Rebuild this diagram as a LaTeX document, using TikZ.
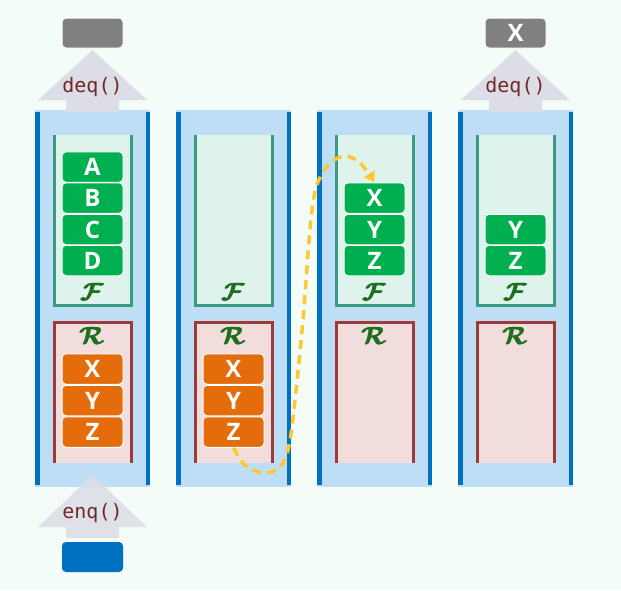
\documentclass[tikz,border=0pt]{standalone}
\usepackage{amsmath, amssymb}
\usepackage{fontspec}
\setsansfont{Open Sans}
\setmonofont{DejaVu Sans Mono}
\usepackage{tikz}
\usetikzlibrary{arrows.meta, positioning, calc}
\definecolor{fond}{RGB}{243,252,246}
\definecolor{colonne}{RGB}{190,222,246}
\definecolor{barre}{RGB}{0,112,192}
\definecolor{vertfond}{RGB}{221,243,236}
\definecolor{vertbord}{RGB}{58,154,130}
\definecolor{rosefond}{RGB}{242,221,221}
\definecolor{rougebord}{RGB}{158,58,58}
\definecolor{vert}{RGB}{0,176,80}
\definecolor{orange}{RGB}{228,108,10}
\definecolor{gris}{RGB}{128,128,128}
\definecolor{fleche}{RGB}{220,221,230}
\definecolor{brun}{RGB}{112,40,40}
\definecolor{jaune}{RGB}{255,200,48}
\definecolor{script}{RGB}{30,110,30}

\begin{document}
\begin{tikzpicture}[x=1pt, y=-1pt,
		item/.style={draw=white, line width=1pt, rounded corners=4pt, minimum width=61pt,
			minimum height=30.5pt, inner sep=0pt, text=white,
			font=\sffamily\bfseries\fontsize{24}{24}\selectfont},
		itemF/.style={item, fill=vert},
		itemR/.style={item, fill=orange},
		sortie/.style={item, fill=gris, minimum height=30pt},
		entree/.style={item, draw=none, fill=barre, minimum height=30pt},
		etiq/.style={text=script, inner sep=0pt, font=\fontsize{25}{25}\selectfont\boldmath},
		op/.style={text=brun, inner sep=0pt, font=\ttfamily\fontsize{20}{20}\selectfont},
		bloc/.style={fill=fleche},
		transfert/.style={draw=jaune, line width=3.5pt, dash pattern=on 9pt off 6pt,
			-{Triangle[length=10pt, width=12pt]}}]
				\useasboundingbox (0,0) rectangle (621,590);
				\fill[fond] (0,0) rectangle (621,590);
				
				% colonnes
				\foreach \dx [count=\i] in {0,141,282,423} {
					\fill[colonne] (35+\dx,110) rectangle (150+\dx,487);
					\fill[barre] (35+\dx,112) rectangle (39.5+\dx,485);
					\fill[barre] (145.5+\dx,112) rectangle (150+\dx,485);
					\fill[vertfond] (53+\dx,135) rectangle (133+\dx,307);
					\draw[vertbord, line width=3pt] (54.5+\dx,135) -- (54.5+\dx,305.5)
						-- (131.5+\dx,305.5) -- (131.5+\dx,135);
					\fill[rosefond] (53+\dx,321) rectangle (133+\dx,463);
					\draw[rougebord, line width=3pt] (54.5+\dx,463) -- (54.5+\dx,322.5)
						-- (131.5+\dx,322.5) -- (131.5+\dx,463);
					\node[etiq] (F\i) at (92.5+\dx,292) {$\pmb{\mathcal{F}}$};
					\node[etiq] (R\i) at (92.5+\dx,336) {$\pmb{\mathcal{R}}$};
				}
				
				% colonne 1
				\node[itemF] (a1) at (92.5,167) {A};
				\node[itemF] (b1) at (92.5,198) {B};
				\node[itemF] (c1) at (92.5,229.5) {C};
				\node[itemF] (d1) at (92.5,260.5) {D};
				\node[itemR] (x1) at (92.5,369) {X};
				\node[itemR] (y1) at (92.5,400.5) {Y};
				\node[itemR] (z1) at (92.5,432) {Z};
				
				% colonne 2
				\node[itemR] (x2) at (233.5,369) {X};
				\node[itemR] (y2) at (233.5,400.5) {Y};
				\node[itemR] (z2) at (233.5,432) {Z};
				
				% colonne 3
				\node[itemF] (x3) at (374.5,198) {X};
				\node[itemF] (y3) at (374.5,229.5) {Y};
				\node[itemF] (z3) at (374.5,260.5) {Z};
				
				% colonne 4
				\node[itemF] (y4) at (515.5,229.5) {Y};
				\node[itemF] (z4) at (515.5,260.5) {Z};
				
				% deq() et enq()
				\foreach \dx in {0,423} {
					\fill[bloc] (92.5+\dx,50) -- (147+\dx,100) -- (119+\dx,100) -- (119+\dx,112)
						-- (66+\dx,112) -- (66+\dx,100) -- (38+\dx,100) -- cycle;
				}
				\node[op] (deq1) at (92.5,87) {deq()};
				\node[op] (deq4) at (515.5,87) {deq()};
				\node[sortie] (s1) at (92.5,33) {};
				\node[sortie] (s4) at (515.5,33) {X};
				
				\fill[bloc, opacity=0.85] (92.5,475) -- (147,527) -- (119,527) -- (119,538)
					-- (66,538) -- (66,527) -- (38,527) -- cycle;
				\node[op] (enq1) at (92.5,513) {enq()};
				\node[entree] (e1) at (92.5,557) {};
				
				% transfert R vers F
				\draw[transfert] plot[smooth, tension=0.6] coordinates {(z2.south) (246,466)
					(267,473) (283,463) (290,440) (295,400) (303,320) (312,210) (322,174)
					(340,157) (358,161) (x3.north)};
			\end{tikzpicture}
\end{document}
